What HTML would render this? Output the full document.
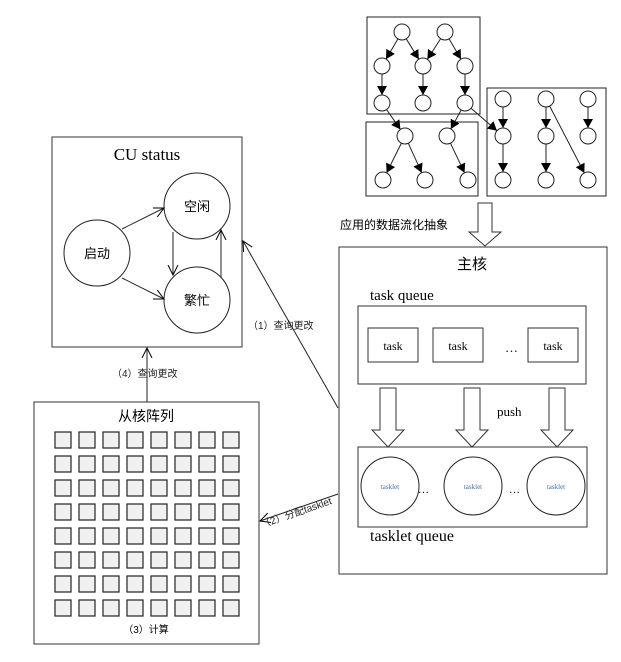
<!DOCTYPE html>
<html><head><meta charset="utf-8"><style>
body{margin:0;background:#fff}
svg{display:block;font-family:"Liberation Serif","Noto Serif CJK SC",serif}
.cj{font-family:"Liberation Sans","Noto Sans CJK SC",sans-serif}
</style></head><body>
<svg id="s" width="621" height="662" viewBox="0 0 621 662">
<defs>
<marker id="ah" markerWidth="10" markerHeight="10" refX="9" refY="5" orient="auto" markerUnits="userSpaceOnUse"><path d="M0,0 L9,5 L0,10 z" fill="#000"/></marker>
<marker id="oh" markerWidth="12" markerHeight="12" refX="10" refY="6" orient="auto" markerUnits="userSpaceOnUse"><path d="M0,1 L10,6 L0,11" fill="none" stroke="#000"/></marker>
</defs>
<g id="graph" stroke="#222" fill="none">
<rect x="367" y="17" width="113" height="97"/>
<rect x="366" y="122" width="112" height="74"/>
<rect x="487" y="88" width="119" height="108"/>
</g>
<g id="cu">
<rect x="52" y="137" width="190" height="210" fill="#fff" stroke="#333"/>
<text x="147" y="160" text-anchor="middle" font-size="17">CU status</text>
<g stroke="#222" fill="#fff">
<circle cx="97" cy="253" r="33"/>
<circle cx="197" cy="206" r="33"/>
<circle cx="197" cy="300" r="33"/>
</g>
<g class="cj" font-size="13" text-anchor="middle">
<text x="97" y="258">启动</text><text x="197" y="211">空闲</text><text x="197" y="305">繁忙</text>
</g>
<g stroke="#222" marker-end="url(#oh)">
<line x1="122" y1="229" x2="164" y2="208"/>
<line x1="122" y1="278" x2="164" y2="299"/>
<line x1="173" y1="232" x2="173" y2="275"/>
<line x1="221" y1="277" x2="221" y2="230"/>
</g>
</g>
<g id="main">
<rect x="339" y="247" width="268" height="327" fill="#fff" stroke="#333"/>
<text x="472" y="269" class="cj" text-anchor="middle" font-size="15">主核</text>
<text x="370" y="300" font-size="15">task queue</text>
<rect x="358" y="306" width="228" height="78" fill="none" stroke="#333"/>
<text x="505" y="352" font-size="13">…</text>
<text x="497" y="416" font-size="13">push</text>
<rect x="358" y="447" width="229" height="80" fill="none" stroke="#333"/>
<text x="370" y="541" font-size="16">tasklet queue</text>
<text x="418" y="493" font-size="11">…</text>
<text x="509" y="493" font-size="11">…</text>
</g>
<g id="slave">
<rect x="34" y="402" width="225" height="242" fill="#fff" stroke="#333"/>
<text x="146" y="421" class="cj" text-anchor="middle" font-size="14">从核阵列</text>
<text x="146" y="633" class="cj" text-anchor="middle" font-size="10">（3）计算</text>
</g>
<g id="conn" stroke="#222" fill="none">
<line x1="338" y1="408" x2="243" y2="241" marker-end="url(#oh)"/>
<line x1="147" y1="402" x2="147" y2="348" marker-end="url(#oh)"/>
<line x1="338" y1="494" x2="260" y2="521" marker-end="url(#oh)"/>
</g>
<g class="cj" font-size="10" fill="#222">
<text x="248" y="329">（1）查询更改</text>
<text x="112" y="377">（4）查询更改</text>
<text x="262" y="528" transform="rotate(-19 262 528)">（2）分配tasklet</text>
</g>
<text x="340" y="229" class="cj" font-size="12">应用的数据流化抽象</text>
<path d="M478,203 H492 V232 H501 L485,246 L469,232 H478 Z" fill="#fff" stroke="#333"/>
</svg>
<script>
const svg=document.getElementById('s');const NS='http://www.w3.org/2000/svg';
function mk(t,a,p){const e=document.createElementNS(NS,t);for(const k in a)e.setAttribute(k,a[k]);(p||svg).appendChild(e);return e;}
const nodesX=[402,445,382,423,465,382,423,465,405,447,383,425,468,503,546,588,503,546,588,503,546,588];
const nodesY=[32,32,66,66,66,103,103,103,136,136,180,180,180,99,99,99,136,136,136,180,180,180];
const edges=[[0,2],[0,3],[1,3],[1,4],[2,5],[3,6],[4,7],[5,8],[7,9],[7,16],[8,10],[8,11],[9,12],[13,16],[16,19],[14,17],[17,20],[14,21],[15,18]];
const g=document.getElementById('graph');const r=8;
edges.forEach(([a,b])=>{const dx=nodesX[b]-nodesX[a],dy=nodesY[b]-nodesY[a],L=Math.hypot(dx,dy);
const l=mk('line',{x1:nodesX[a]+dx/L*r,y1:nodesY[a]+dy/L*r,x2:nodesX[b]-dx/L*r,y2:nodesY[b]-dy/L*r,'marker-end':'url(#ah)'},g);

});
nodesX.forEach((x,i)=>{const c=mk('circle',{cx:x,cy:nodesY[i],r:r,fill:'#fff'},g);

});
const main=document.getElementById('main');
const taskX=[368,433,528];
taskX.forEach(x=>{const b=mk('rect',{x:x,y:328,width:50,height:34,fill:'#fff',stroke:'#333'},main);


const t=mk('text',{x:x+25,y:350,'text-anchor':'middle','font-size':12},main);t.textContent='task';});
const arrowX=[388,472,557];
arrowX.forEach(x=>{const p=mk('path',{d:`M${x-8},388 H${x+8} V430 H${x+16} L${x},447 L${x-16},430 H${x-8} Z`,fill:'#fff',stroke:'#333'},main);

});
const tlX=[390,473,556];
tlX.forEach(x=>{const c=mk('circle',{cx:x,cy:486,r:29,fill:'#fff',stroke:'#222'},main);


const t=mk('text',{x:x,y:489,'text-anchor':'middle','font-size':7,fill:'#3a6fb0'},main);t.textContent='tasklet';});
const sl=document.getElementById('slave');
for(let i=0;i<8;i++)for(let j=0;j<8;j++){const q=mk('rect',{x:55+j*24,y:432+i*24,width:16,height:16,fill:'#f0f0f0',stroke:'#333','stroke-width':1.3},sl);

}
</script>
</body></html>
